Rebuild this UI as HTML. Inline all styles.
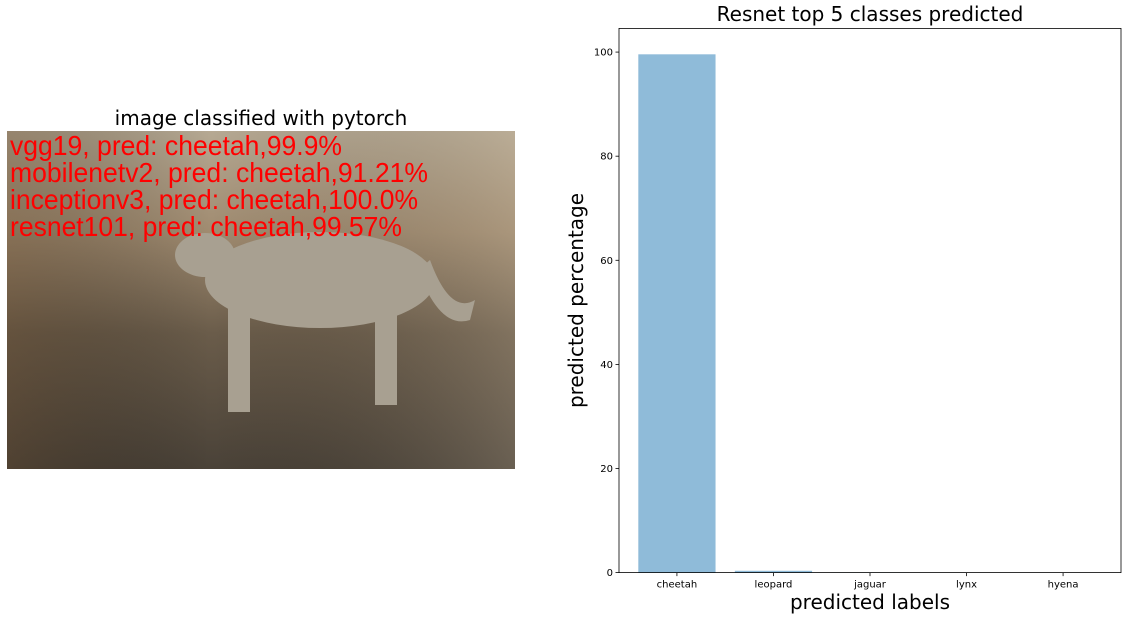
<!DOCTYPE html>
<html><head><meta charset="utf-8"><style>
html,body{margin:0;padding:0;background:#fff;}
svg{display:block;font-family:"DejaVu Sans","Liberation Sans",sans-serif;}
</style></head><body>
<svg id="fig" width="1130" height="619" viewBox="0 0 1130 619" xmlns="http://www.w3.org/2000/svg">
<defs>
<linearGradient id="bg" x1="0" y1="0" x2="0" y2="1">
<stop offset="0" stop-color="#b6a993"/><stop offset="0.3" stop-color="#a08b70"/><stop offset="0.6" stop-color="#6a5c4a"/><stop offset="1" stop-color="#4a4238"/></linearGradient>
<linearGradient id="bgx" x1="0" y1="0" x2="1" y2="0">
<stop offset="0" stop-color="#5a4026" stop-opacity="0.35"/><stop offset="0.4" stop-color="#000" stop-opacity="0"/><stop offset="1" stop-color="#c8b8a0" stop-opacity="0.25"/></linearGradient>
</defs>
<g>
<text x="261" y="125" font-size="20" text-anchor="middle" fill="#000">image classified with pytorch</text>
<rect x="7" y="131" width="508" height="338" fill="url(#bg)"/>
<rect x="7" y="131" width="508" height="338" fill="url(#bgx)"/>
<g fill="#a8a091">
<ellipse cx="320" cy="280" rx="115" ry="48"/>
<ellipse cx="205" cy="255" rx="30" ry="22"/>
<rect x="228" y="300" width="22" height="112"/>
<rect x="375" y="300" width="22" height="105"/>
<path d="M418 270 Q440 330 470 320 L475 300 Q450 315 430 260Z"/>
</g>
<g fill="#fff" font-family="Liberation Sans, sans-serif" font-size="28">
<text x="10" y="155" fill="#ff0000" textLength="332" lengthAdjust="spacingAndGlyphs">vgg19, pred: cheetah,99.9%</text>
<text x="10" y="182" fill="#ff0000" textLength="418" lengthAdjust="spacingAndGlyphs">mobilenetv2, pred: cheetah,91.21%</text>
<text x="10" y="209" fill="#ff0000" textLength="408" lengthAdjust="spacingAndGlyphs">inceptionv3, pred: cheetah,100.0%</text>
<text x="10" y="236" fill="#ff0000" textLength="392" lengthAdjust="spacingAndGlyphs">resnet101, pred: cheetah,99.57%</text>
</g>
</g>
<g id="chart"></g>
</svg>
<script>
const categories = ["cheetah","leopard","jaguar","lynx","hyena"];
const values = [99.57, 0.35, 0.03, 0.02, 0.01];
const yTicks = [0,20,40,60,80,100];

const NS="http://www.w3.org/2000/svg";
const g=document.getElementById('chart');
const L=619,R=1121,T=28.4,B=572.6,yMin=0,yMax=104.55;
const xMin=-0.6,xMax=4.6;
function xs(v){return L+(v-xMin)/(xMax-xMin)*(R-L);}
function ys(v){return B-(v-yMin)/(yMax-yMin)*(B-T);}
function mk(tag,attrs,parent){const e=document.createElementNS(NS,tag);for(const k in attrs)e.setAttribute(k,attrs[k]);(parent||g).appendChild(e);return e;}
const bw=(xs(0.8)-xs(0));
categories.forEach((c,i)=>{
  const b=mk('rect',{x:xs(i)-bw/2,y:ys(values[i]),width:bw,height:ys(0)-ys(values[i]),fill:'#1f77b4','fill-opacity':0.5});
  
  
  const t=mk('line',{x1:xs(i),x2:xs(i),y1:B,y2:B+3.5,stroke:'#000','stroke-width':0.8});
  
  
  const l=mk('text',{x:xs(i),y:B+15,'font-size':10,'text-anchor':'middle',fill:'#000'});
  l.textContent=c;
  
  
});
yTicks.forEach(v=>{
  const t=mk('line',{x1:L-3.5,x2:L,y1:ys(v),y2:ys(v),stroke:'#000','stroke-width':0.8});
  
  
  const l=mk('text',{x:L-6,y:ys(v)+3.5,'font-size':10,'text-anchor':'end',fill:'#000'});
  l.textContent=v;
  
  
});
const fr=mk('rect',{x:L,y:T,width:R-L,height:B-T,fill:'none',stroke:'#000','stroke-width':0.8});


const ti=mk('text',{x:(L+R)/2,y:21,'font-size':20,'text-anchor':'middle',fill:'#000'});
ti.textContent='Resnet top 5 classes predicted';


const xl=mk('text',{x:(L+R)/2,y:609,'font-size':20,'text-anchor':'middle',fill:'#000'});
xl.textContent='predicted labels';


const yl=mk('text',{x:0,y:0,'font-size':20,'text-anchor':'middle',fill:'#000',transform:'translate(583,'+((T+B)/2)+') rotate(-90)'});
yl.textContent='predicted percentage';


</script>
</body></html>
